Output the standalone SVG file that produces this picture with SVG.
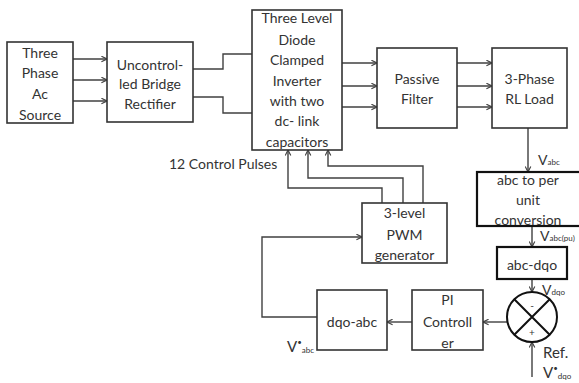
<svg xmlns="http://www.w3.org/2000/svg" width="579" height="383" viewBox="0 0 579 383">
<defs>
<marker id="ah" viewBox="0 0 10 10" refX="9" refY="5" markerWidth="7" markerHeight="7" markerUnits="userSpaceOnUse" orient="auto">
<path d="M1,1 L9,5 L1,9" fill="none" stroke="#404040" stroke-width="1.6"/>
</marker>
</defs>
<style>
.box{fill:#fff;stroke:#333;stroke-width:1.6}
.bold{fill:#fff;stroke:#111;stroke-width:2.2}
.t{font-family:Lato,"Open Sans",sans-serif;font-size:14px;fill:#333;text-anchor:middle}
.l{font-family:Lato,"Open Sans",sans-serif;font-size:14px;fill:#333}
.s{font-size:8px}
.c{fill:none;stroke:#404040;stroke-width:1.4}
.a{fill:none;stroke:#404040;stroke-width:1.4;marker-end:url(#ah)}
</style>
<rect width="579" height="383" fill="#fff"/>
<g id="connectors">
<path class="a" d="M73,59 H107"/>
<path class="a" d="M73,80 H107"/>
<path class="a" d="M73,101 H107"/>
<path class="c" d="M193,69 H223 V54 H252"/>
<path class="c" d="M193,97 H223 V113 H252"/>
<path class="a" d="M342,63 H377"/>
<path class="a" d="M342,86 H377"/>
<path class="a" d="M342,107 H377"/>
<path class="a" d="M457,63 H492"/>
<path class="a" d="M457,86 H492"/>
<path class="a" d="M457,107 H492"/>
<path class="a" d="M528,128 V172"/>
<path class="a" d="M532,226 V247"/>
<path class="a" d="M532,279 V292"/>
<path class="a" d="M532,377 V342"/>
<path class="a" d="M507,322 H483"/>
<path class="a" d="M412,322 H387"/>
<path class="a" d="M317,317 H262 V237 H362"/>
<path class="a" d="M382,203 V188 H288 V150"/>
<path class="a" d="M403,203 V178 H308 V150"/>
<path class="a" d="M423,203 V166 H328 V150"/>
</g>
<g id="source">
<rect class="box" x="7" y="42" width="66" height="81"/>
<text class="t" x="40" y="58">Three</text>
<text class="t" x="40" y="78">Phase</text>
<text class="t" x="40" y="99">Ac</text>
<text class="t" x="40" y="120">Source</text>
</g>
<g id="rectifier">
<rect class="box" x="107" y="42" width="86" height="80"/>
<text class="t" x="150" y="70">Uncontrol-</text>
<text class="t" x="150" y="89">led Bridge</text>
<text class="t" x="150" y="109">Rectifier</text>
</g>
<g id="inverter">
<rect class="box" x="252" y="10" width="90" height="140"/>
<text class="t" x="297" y="23">Three Level</text>
<text class="t" x="297" y="45">Diode</text>
<text class="t" x="297" y="65">Clamped</text>
<text class="t" x="297" y="86">Inverter</text>
<text class="t" x="297" y="106">with two</text>
<text class="t" x="297" y="126">dc- link</text>
<text class="t" x="297" y="147">capacitors</text>
</g>
<g id="filter">
<rect class="box" x="377" y="48" width="80" height="80"/>
<text class="t" x="417" y="84">Passive</text>
<text class="t" x="417" y="104">Filter</text>
</g>
<g id="load">
<rect class="box" x="492" y="48" width="75" height="80"/>
<text class="t" x="529.5" y="84">3-Phase</text>
<text class="t" x="529.5" y="104">RL Load</text>
</g>
<g id="perunit">
<rect class="bold" x="477" y="172" width="110" height="54"/>
<text class="t" x="528" y="185">abc to per</text>
<text class="t" x="528" y="205">unit</text>
<text class="t" x="528" y="225">conversion</text>
</g>
<g id="abcdqo">
<rect class="bold" x="497" y="247" width="70" height="32"/>
<text class="t" x="532" y="270">abc-dqo</text>
</g>
<g id="sum">
<circle cx="532" cy="317" r="25" fill="#fff" stroke="#111" stroke-width="2"/>
<path d="M514.3,299.3 L549.7,334.7 M549.7,299.3 L514.3,334.7" stroke="#111" stroke-width="2"/>
<text class="t" x="532" y="309" style="font-size:10px">-</text>
<text class="t" x="532" y="336" style="font-size:10px">+</text>
</g>
<g id="pi">
<rect class="box" x="412" y="290" width="71" height="60"/>
<text class="t" x="447.5" y="305">PI</text>
<text class="t" x="447.5" y="327">Controll</text>
<text class="t" x="447.5" y="348">er</text>
</g>
<g id="dqoabc">
<rect class="box" x="317" y="290" width="70" height="60"/>
<text class="t" x="352" y="327">dqo-abc</text>
</g>
<g id="pwm">
<rect class="box" x="362" y="203" width="85" height="60"/>
<text class="t" x="404.5" y="218">3-level</text>
<text class="t" x="404.5" y="240">PWM</text>
<text class="t" x="404.5" y="260">generator</text>
</g>
<g id="labels">
<text class="l" x="169" y="169">12 Control  Pulses</text>
<text class="l" x="538" y="165">V<tspan class="s">abc</tspan></text>
<text class="l" x="540" y="241">V<tspan class="s">abc(pu)</tspan></text>
<text class="l" x="542" y="295">V<tspan class="s">dqo</tspan></text>
<text class="l" x="543" y="358" style="font-size:15px">Ref.</text>
<text class="l" x="543" y="378" style="font-size:15px">V<tspan style="font-size:8px" dy="-7">•</tspan><tspan class="s" dy="8">dqo</tspan></text>
<text class="l" x="287" y="352" style="font-size:15px">V<tspan style="font-size:8px" dy="-7">•</tspan><tspan class="s" dy="8">abc</tspan></text>
</g>
</svg>
